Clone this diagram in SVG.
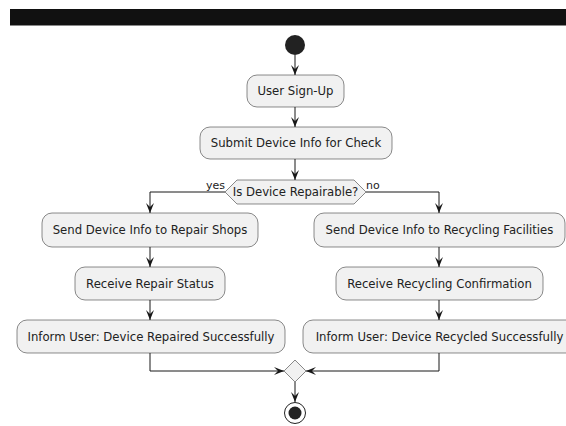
<svg xmlns="http://www.w3.org/2000/svg" width="566" height="426" viewBox="0 0 566 426">
<style>
.box{fill:#F1F1F1;stroke:#181818;stroke-width:0.5}
.t{font-family:"DejaVu Sans",sans-serif;font-size:11.7px;fill:#222;text-anchor:middle}
.lbl{font-family:"DejaVu Sans",sans-serif;font-size:11px;fill:#222}
.ln{fill:none;stroke:#181818;stroke-width:1}
</style>
<defs>
<marker id="ah" viewBox="0 0 10 10" refX="10" refY="5" markerWidth="10" markerHeight="10" markerUnits="userSpaceOnUse" orient="auto">
<polygon points="0,1 10,5 0,9 4,5" fill="#181818"/>
</marker>
</defs>
<rect x="10" y="9" width="556" height="16" fill="#111"/>
<line x1="10" y1="25.5" x2="566" y2="25.5" stroke="#888" stroke-width="1"/>
<g id="start"><circle cx="295" cy="45" r="10" fill="#222"/></g>
<g id="signup"><rect class="box" x="247" y="75" width="97" height="32" rx="10"/><text class="t" x="295.5" y="95">User Sign-Up</text></g>
<g id="submit"><rect class="box" x="200" y="127" width="192" height="32" rx="10"/><text class="t" x="296" y="147">Submit Device Info for Check</text></g>
<g id="decision"><polygon class="box" points="237,180 354,180 366,192 354,204 237,204 225,192"/><text class="t" x="295.5" y="196">Is Device Repairable?</text></g>
<g id="sendRepair"><rect class="box" x="42" y="213" width="216" height="34" rx="10"/><text class="t" x="150" y="234">Send Device Info to Repair Shops</text></g>
<g id="recvRepair"><rect class="box" x="75" y="267" width="150" height="33" rx="10"/><text class="t" x="150" y="288">Receive Repair Status</text></g>
<g id="informRepair"><rect class="box" x="17" y="320" width="268" height="33" rx="10"/><text class="t" x="151" y="341">Inform User: Device Repaired Successfully</text></g>
<g id="sendRecycle"><rect class="box" x="314" y="213" width="251" height="34" rx="10"/><text class="t" x="439.5" y="234">Send Device Info to Recycling Facilities</text></g>
<g id="recvRecycle"><rect class="box" x="336" y="267" width="207" height="33" rx="10"/><text class="t" x="439.5" y="288">Receive Recycling Confirmation</text></g>
<g id="informRecycle"><rect class="box" x="303" y="320" width="273" height="33" rx="10"/><text class="t" x="439.5" y="341">Inform User: Device Recycled Successfully</text></g>
<g id="merge"><polygon class="box" points="295,360 306,371 295,382 284,371"/></g>
<g id="end"><circle cx="295" cy="413" r="10.5" fill="none" stroke="#222" stroke-width="1"/><circle cx="295" cy="413" r="6.5" fill="#222"/></g>
<g id="connectors">
<line class="ln" x1="295" y1="55" x2="295" y2="75" marker-end="url(#ah)"/>
<line class="ln" x1="295" y1="107" x2="295" y2="127" marker-end="url(#ah)"/>
<line class="ln" x1="295" y1="159" x2="295" y2="180" marker-end="url(#ah)"/>
<polyline class="ln" points="225,192 150,192 150,213" marker-end="url(#ah)"/>
<polyline class="ln" points="366,192 439,192 439,213" marker-end="url(#ah)"/>
<text class="lbl" x="206" y="189">yes</text>
<text class="lbl" x="366" y="189">no</text>
<line class="ln" x1="150" y1="247" x2="150" y2="267" marker-end="url(#ah)"/>
<line class="ln" x1="150" y1="300" x2="150" y2="320" marker-end="url(#ah)"/>
<line class="ln" x1="439" y1="247" x2="439" y2="267" marker-end="url(#ah)"/>
<line class="ln" x1="439" y1="300" x2="439" y2="320" marker-end="url(#ah)"/>
<polyline class="ln" points="150,353 150,371 284,371" marker-end="url(#ah)"/>
<polyline class="ln" points="439,353 439,371 306,371" marker-end="url(#ah)"/>
<line class="ln" x1="295" y1="382" x2="295" y2="402" marker-end="url(#ah)"/>
</g>
</svg>
